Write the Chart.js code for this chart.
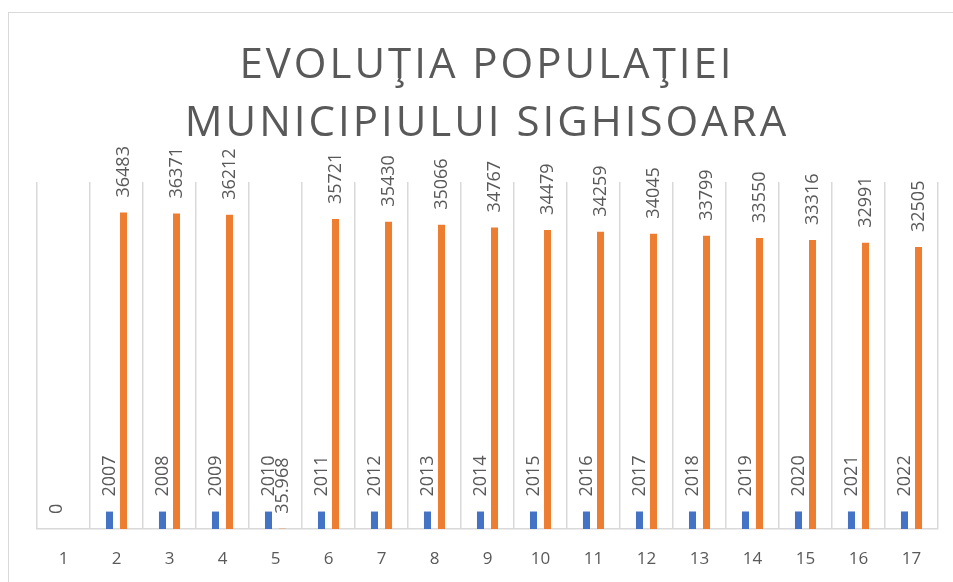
<!DOCTYPE html>
<html>
<head>
<meta charset="utf-8">
<script src="https://cdn.jsdelivr.net/npm/chart.js@4/dist/chart.umd.min.js"></script>
<style>
  html, body { margin: 0; padding: 0; background: #fff; overflow: hidden; }
  #frame {
    position: absolute; left: 8px; top: 12px;
    width: 1000px; height: 700px;
    border: 1px solid #d9d9d9;
  }
  #wrap { position: absolute; left: 0; top: 0; width: 953px; height: 582px; }
</style>
</head>
<body>
<div id="frame"></div>
<div id="wrap"><canvas id="chart" width="953" height="582"></canvas></div>
<script>
// chart data
let categories = ["1","2","3","4","5","6","7","8","9","10","11","12","13","14","15","16","17"];
let years = [0, 2007, 2008, 2009, 2010, 2011, 2012, 2013, 2014, 2015, 2016, 2017, 2018, 2019, 2020, 2021, 2022];
let population = [null, 36483, 36371, 36212, 35.968, 35721, 35430, 35066, 34767, 34479, 34259, 34045, 33799, 33550, 33316, 32991, 32505];
let titleLines = ["EVOLUŢIA POPULAŢIEI", "MUNICIPIULUI SIGHISOARA"];

let textColor = "#595959";
let fontFamily = "'Open Sans', 'Noto Sans', sans-serif";

// draws the two-line title with letter spacing
let titlePlugin = {
  id: "bigTitle",
  afterDraw(chart) {
    let ctx = chart.ctx;
    ctx.save();
    ctx.fillStyle = textColor;
    ctx.font = "42px " + fontFamily;
    ctx.textAlign = "center";
    ctx.textBaseline = "alphabetic";
    ctx.letterSpacing = "3px";
    ctx.fillText(titleLines[0], 487, 78);
    ctx.fillText(titleLines[1], 487, 136);
    ctx.restore();
  }
};

// rotated value labels above each bar
let labelPlugin = {
  id: "valueLabels",
  afterDatasetsDraw(chart) {
    let ctx = chart.ctx;
    ctx.save();
    ctx.fillStyle = textColor;
    ctx.font = "18px " + fontFamily;
    ctx.textAlign = "left";
    ctx.textBaseline = "middle";
    chart.data.datasets.forEach((ds, di) => {
      let meta = chart.getDatasetMeta(di);
      meta.data.forEach((bar, i) => {
        let v = ds.data[i];
        if (v === null || v === undefined) return;
        ctx.save();
        ctx.translate(bar.x, bar.y - 15);
        ctx.rotate(-Math.PI / 2);
        ctx.fillText(String(v), 0, 0);
        ctx.restore();
      });
    });
    ctx.restore();
  }
};

let chart = new Chart(document.getElementById("chart").getContext("2d"), {
  type: "bar",
  data: {
    labels: categories,
    datasets: [
      {
        label: "An",
        data: years,
        backgroundColor: "#4472C4",
        categoryPercentage: 0.53,
        barPercentage: 0.5
      },
      {
        label: "Populatie",
        data: population,
        backgroundColor: "#ED7D31",
        categoryPercentage: 0.53,
        barPercentage: 0.5
      }
    ]
  },
  options: {
    responsive: false,
    animation: false,
    layout: { padding: { left: 37, right: 15, top: 182, bottom: 0 } },
    plugins: {
      legend: { display: false },
      title: { display: false },
      tooltip: { enabled: false }
    },
    scales: {
      x: {
        grid: { display: true, offset: true, color: "#d9d9d9", lineWidth: 1.5, drawTicks: false },
        border: { display: true, color: "#d9d9d9", width: 1.5 },
        ticks: { color: textColor, font: { size: 17, family: fontFamily }, padding: 20 },
        afterFit(scale) { scale.height = 53; }
      },
      y: {
        display: false,
        min: 0,
        max: 40000
      }
    }
  },
  plugins: [labelPlugin, titlePlugin]
});
</script>
</body>
</html>
